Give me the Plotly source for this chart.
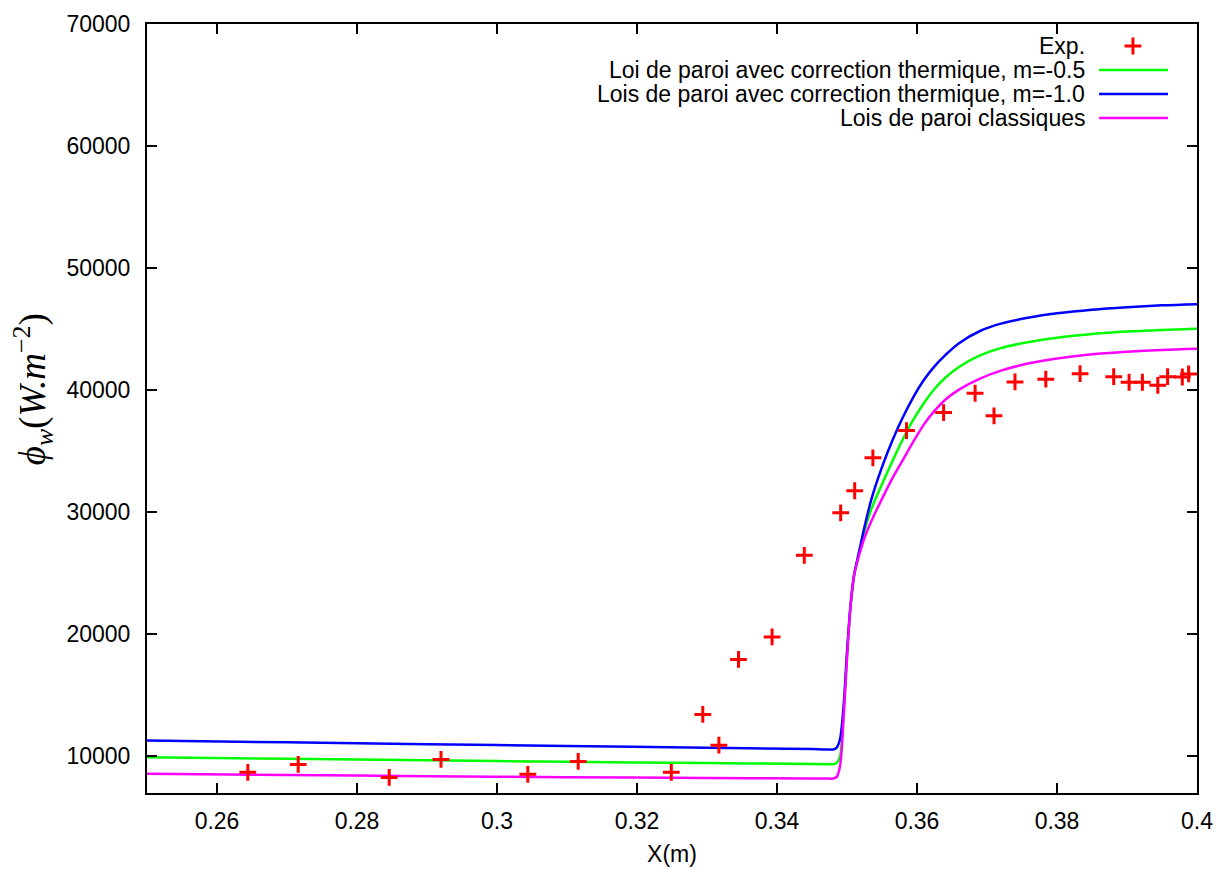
import plotly.graph_objects as go

# experimental wall heat flux
exp_x = [0.2644, 0.2716, 0.2846, 0.2920, 0.3044, 0.3116, 0.3249, 0.3294, 0.3317,
         0.3345, 0.3393, 0.3439, 0.3491, 0.3511, 0.3537, 0.3585, 0.3638, 0.3683,
         0.3710, 0.3740, 0.3784, 0.3833, 0.3881, 0.3903, 0.3922, 0.3944, 0.3958,
         0.3979, 0.3988]
exp_y = [8690, 9345, 8280, 9750, 8530, 9590, 8690, 13440, 10920,
         17940, 19790, 26470, 29950, 31760, 34460, 36690, 38170, 39750,
         37900, 40680, 40900, 41350, 41110, 40650, 40650, 40400, 41110,
         41080, 41330]

# simulations (shared x grid)
sim_x = [0.25, 0.27, 0.29, 0.31, 0.33, 0.345, 0.3475, 0.348, 0.3485, 0.349, 0.3495,
         0.350, 0.3505, 0.351, 0.3515, 0.352, 0.3525, 0.3535, 0.355, 0.3565, 0.358,
         0.3595, 0.361, 0.3625, 0.364, 0.366, 0.369, 0.372, 0.376, 0.380, 0.385,
         0.390, 0.395, 0.400]
m05_y = [9920, 9800, 9680, 9560, 9450, 9380, 9360, 9360, 9450, 10000, 13500,
         18300, 22300, 24800, 26100, 27300, 28500, 30300, 32300, 34200, 36000,
         37600, 38950, 40100, 41000, 41900, 42850, 43450, 43950, 44300, 44600,
         44800, 44930, 45030]
m10_y = [11300, 11150, 11000, 10850, 10700, 10600, 10560, 10560, 10700, 11400, 14000,
         18500, 22300, 24800, 26200, 27500, 28800, 31100, 33700, 35900, 37800,
         39450, 40850, 41950, 42850, 43850, 44850, 45450, 45950, 46300, 46600,
         46800, 46950, 47050]
cls_y = [8580, 8480, 8380, 8300, 8230, 8190, 8180, 8180, 8300, 9200, 13000,
         18000, 22300, 24800, 26000, 27000, 27900, 29300, 31100, 32800, 34300,
         35800, 37200, 38300, 39200, 40050, 40950, 41600, 42200, 42600, 42950,
         43150, 43300, 43400]

labels = ["Exp.",
          "Loi de paroi avec correction thermique, m=-0.5",
          "Lois de paroi avec correction thermique, m=-1.0",
          "Lois de paroi classiques"]
colors = ["#ff0000", "#00ff00", "#0000ff", "#ff00ff"]

x_ticks = [0.26, 0.28, 0.30, 0.32, 0.34, 0.36, 0.38, 0.40]
x_ticktext = ["0.26", "0.28", "0.3", "0.32", "0.34", "0.36", "0.38", "0.4"]
y_ticks = [10000, 20000, 30000, 40000, 50000, 60000, 70000]

SANS = "Liberation Sans, Arial, sans-serif"

fig = go.Figure()

for ys, col in zip([m05_y, m10_y, cls_y], colors[1:]):
    fig.add_trace(go.Scatter(x=sim_x, y=ys, mode="lines",
                             line=dict(color=col, width=2.5, shape="spline",
                                       smoothing=0.9),
                             showlegend=False))

fig.add_trace(go.Scatter(x=exp_x, y=exp_y, mode="markers",
                         marker=dict(symbol="cross-thin", size=12,
                                     line=dict(color="#ff0000", width=3)),
                         showlegend=False))

# gnuplot-style key: text right-aligned, sample on the right
font = dict(family=SANS, size=23, color="black")
for i, (lab, col) in enumerate(zip(labels, colors)):
    yp = 0.9714 - i * 0.0312
    fig.add_annotation(x=0.8952, y=yp, xref="paper", yref="paper", text=lab,
                       showarrow=False, xanchor="right", yanchor="middle", font=font)
    if i == 0:
        fig.add_trace(go.Scatter(x=[0.939], y=[yp], xaxis="x2", yaxis="y2",
                                 mode="markers", showlegend=False,
                                 marker=dict(symbol="cross-thin", size=12,
                                             line=dict(color=col, width=3))))
    else:
        fig.add_shape(type="line", xref="paper", yref="paper",
                      x0=0.9067, x1=0.9724, y0=yp, y1=yp,
                      line=dict(color=col, width=2.5))

# y-axis label, placed like gnuplot does it
fig.add_annotation(x=-0.1086, y=0.525, xref="paper", yref="paper",
                   text="<i>ϕ<sub>w</sub></i>(<i>W.m</i><sup>−2</sup>)",
                   textangle=-90, showarrow=False,
                   xanchor="center", yanchor="middle",
                   font=dict(family="Liberation Serif, DejaVu Serif, serif",
                             size=37, color="black"))

axis_common = dict(showline=True, linecolor="black", linewidth=2, mirror="ticks",
                   ticks="inside", ticklen=10, tickwidth=1.5, tickcolor="black",
                   showgrid=False, zeroline=False, automargin=False,
                   tickfont=dict(family=SANS, size=23, color="black"))

# page body adds an 8px margin, so the figure is shrunk and shifted to match
fig.update_layout(
    width=1214, height=861,
    margin=dict(l=139, r=25, t=16, b=76),
    paper_bgcolor="white", plot_bgcolor="white",
    xaxis=dict(range=[0.25, 0.40], tickvals=x_ticks, ticktext=x_ticktext,
               ticklabelstandoff=6,
               title=dict(text="X(m)", standoff=13, font=font),
               **axis_common),
    yaxis=dict(range=[7000, 70000], tickvals=y_ticks, tickformat="d",
               ticklabelstandoff=10, **axis_common),
    xaxis2=dict(range=[0, 1], domain=[0, 1], overlaying="x", visible=False),
    yaxis2=dict(range=[0, 1], domain=[0, 1], overlaying="y", visible=False),
)

fig.write_html("out.html")
